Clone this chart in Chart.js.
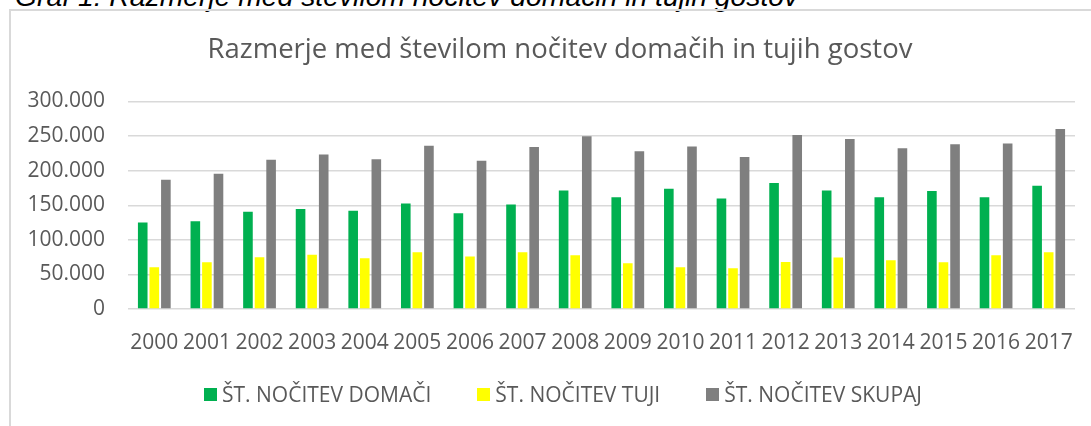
<!DOCTYPE html>
<html>
<head>
<meta charset="utf-8">
<script src="https://cdn.jsdelivr.net/npm/chart.js@4/dist/chart.umd.min.js"></script>
<style>
	html, body { margin: 0; padding: 0; background: #fff; overflow: hidden; }
	#wrap { position: relative; width: 1091px; height: 426px; overflow: hidden; }
	#caption {
		position: absolute; left: 15px; top: -18px; white-space: nowrap;
		font: italic 28.3px/28px "Liberation Sans", Arial, sans-serif; color: #000;
	}
	#frame {
		position: absolute; left: 9px; top: 9px; width: 1200px; height: 500px;
		border-left: 2px solid #d9d9d9; border-top: 2px solid #d9d9d9;
	}
	#chart { position: absolute; left: 0; top: 0; }
	#title {
		position: absolute; left: 160px; width: 800px; top: 31px; text-align: center;
		font: 27.5px/33px "Open Sans", sans-serif; color: #595959; white-space: nowrap;
	}
	#legend {
		position: absolute; left: 204px; top: 383px; display: flex; align-items: center;
		font: 21px/22px "Open Sans", sans-serif; color: #595959; white-space: nowrap;
	}
	#legend .item { display: flex; align-items: center; margin-right: 46px; }
	#legend .box { width: 13px; height: 13px; margin-right: 5px; }
</style>
</head>
<body>
<div id="wrap">
	<div id="caption">Graf 1: Razmerje med številom nočitev domačih in tujih gostov</div>
	<div id="frame"></div>
	<canvas id="chart" width="1091" height="426"></canvas>
	<div id="title"></div>
	<div id="legend"></div>
</div>
<script>
// Podatki
const chartTitle = "Razmerje med številom nočitev domačih in tujih gostov";
const years = ["2000", "2001", "2002", "2003", "2004", "2005", "2006", "2007", "2008",
	"2009", "2010", "2011", "2012", "2013", "2014", "2015", "2016", "2017"];
const domaci = [125100, 127000, 140600, 144400, 142000, 152700, 138600, 151200, 171500,
	161400, 173900, 159900, 182100, 171500, 161400, 170500, 161400, 178300];
const tuji = [60400, 67600, 74900, 78300, 73400, 82100, 75800, 82100, 77800,
	66200, 60400, 58900, 68100, 74400, 70500, 67600, 77800, 82100];
const skupaj = [187000, 195700, 215900, 223200, 216400, 236200, 214500, 234300, 249800,
	228000, 234800, 219800, 251700, 245900, 232400, 238200, 239100, 260400];
const seriesNames = ["ŠT. NOČITEV DOMAČI", "ŠT. NOČITEV TUJI", "ŠT. NOČITEV SKUPAJ"];
const seriesColors = ["#00b050", "#ffff00", "#7f7f7f"];
const yTicks = [0, 50000, 100000, 150000, 200000, 250000, 300000];

const textColor = "#595959";
const font = "'Open Sans', sans-serif";

function fmtNum(v) {
	return String(v).replace(/\B(?=(\d{3})+(?!\d))/g, ".");
}

const datasets = [domaci, tuji, skupaj].map((data, i) => ({
	label: seriesNames[i],
	data: data,
	backgroundColor: seriesColors[i],
	borderWidth: 0,
	categoryPercentage: 0.66,
	barPercentage: 0.83,
}));

new Chart(document.getElementById("chart"), {
	type: "bar",
	data: { labels: years, datasets: datasets },
	options: {
		responsive: false,
		animation: false,
		layout: { padding: { left: 0, right: 16, top: 101.5, bottom: 0 } },
		plugins: {
			legend: { display: false },
			tooltip: { enabled: false },
			title: { display: false },
		},
		scales: {
			x: {
				afterFit: (scale) => { scale.height = 117; },
				grid: { display: false },
				border: { display: false },
				ticks: {
					color: textColor,
					font: { family: font, size: 21, lineHeight: 1.2 },
					padding: 13,
					autoSkip: false,
					maxRotation: 0,
				},
			},
			y: {
				min: yTicks[0],
				max: yTicks[yTicks.length - 1],
				afterFit: (scale) => { scale.width = 128; },
				afterBuildTicks: (scale) => { scale.ticks = yTicks.map((v) => ({ value: v })); },
				grid: { color: "#d9d9d9", lineWidth: 1.5, drawTicks: false },
				border: { display: false },
				ticks: {
					color: textColor,
					font: { family: font, size: 21, lineHeight: 1.2 },
					padding: 23,
					callback: (v) => fmtNum(v),
				},
			},
		},
	},
});

// Naslov in legenda
document.getElementById("title").textContent = chartTitle;
document.getElementById("legend").innerHTML = seriesNames
	.map((name, i) => `<div class="item"><div class="box" style="background:${seriesColors[i]}"></div>${name}</div>`)
	.join("");
</script>
</body>
</html>
